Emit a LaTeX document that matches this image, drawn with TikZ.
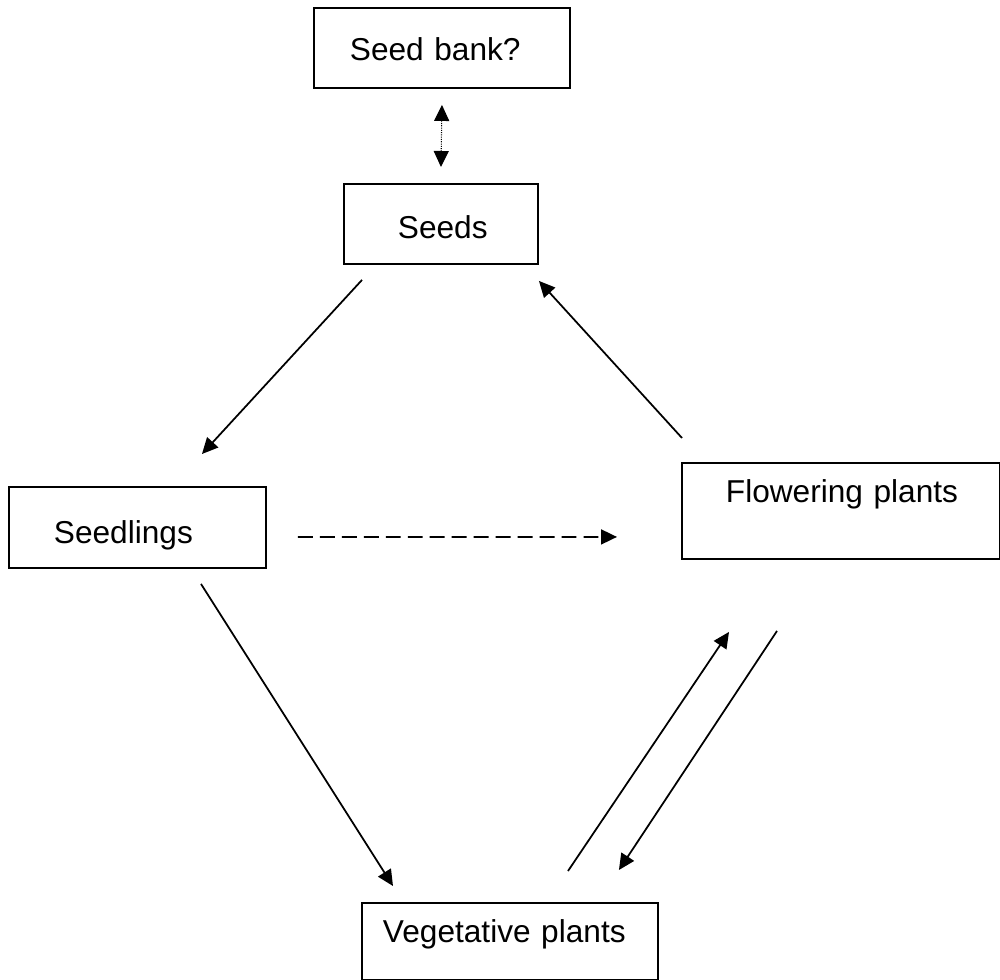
\documentclass[tikz,border=0pt]{standalone}
\usepackage{fontspec}
\setmainfont{Liberation Sans}
\usetikzlibrary{arrows.meta}
\begin{document}
\begin{tikzpicture}[>={Triangle[length=0.32cm,width=0.3cm]},
    box/.style={draw, line width=1.1pt, inner sep=0pt, anchor=north west,
                align=left, font=\fontsize{18}{22}\selectfont},
    arr/.style={line width=1pt, ->}]
      \useasboundingbox (0,0) rectangle (20,-19.6);

      \node[box, text width=5.12cm, text height=1.06cm, text depth=0.54cm]
        (bank) at (6.26,-0.14) {\hspace*{0.72cm}Seed bank?};
      \node[box, text width=3.88cm, text height=1.1cm, text depth=0.5cm]
        (seeds) at (6.86,-3.66) {\hspace*{1.08cm}Seeds};
      \node[box, text width=5.14cm, text height=1.14cm, text depth=0.48cm]
        (sdl) at (0.16,-9.72) {\hspace*{0.9cm}Seedlings};
      \node[box, text width=6.36cm, text height=0.8cm, text depth=1.12cm]
        (flw) at (13.62,-9.24) {\hspace*{0.88cm}Flowering plants};
      \node[box, text width=5.92cm, text height=0.8cm, text depth=0.74cm]
        (veg) at (7.22,-18.04) {\hspace*{0.42cm}Vegetative plants};

      \draw[arr, <->, line width=0.6pt, dash pattern=on 0.6pt off 0.7pt]
        ([yshift=-0.32cm]bank.south) -- ([yshift=0.32cm]seeds.north);
      \draw[arr] ([shift={(0.38,-0.3)}]seeds.south west)
        -- ([shift={(1.29,0.64)}]sdl.north);
      \draw[arr] ([shift={(0.02,0.48)}]flw.north west)
        -- ([shift={(0,-0.32)}]seeds.south east);
      \draw[arr, dash pattern=on 8.5pt off 4pt] ([shift={(0.62,0.64)}]sdl.south east)
        -- ([shift={(-1.28,0.46)}]flw.south west);
      \draw[arr] ([shift={(3.86,-0.3)}]sdl.south west)
        -- ([shift={(0.64,0.32)}]veg.north west);
      \draw[arr] ([shift={(4.14,0.62)}]veg.north west)
        -- ([shift={(0.96,-1.44)}]flw.south west);
      \draw[arr] ([shift={(1.92,-1.42)}]flw.south west)
        -- ([shift={(-0.8,0.64)}]veg.north east);
    \end{tikzpicture}
\end{document}
